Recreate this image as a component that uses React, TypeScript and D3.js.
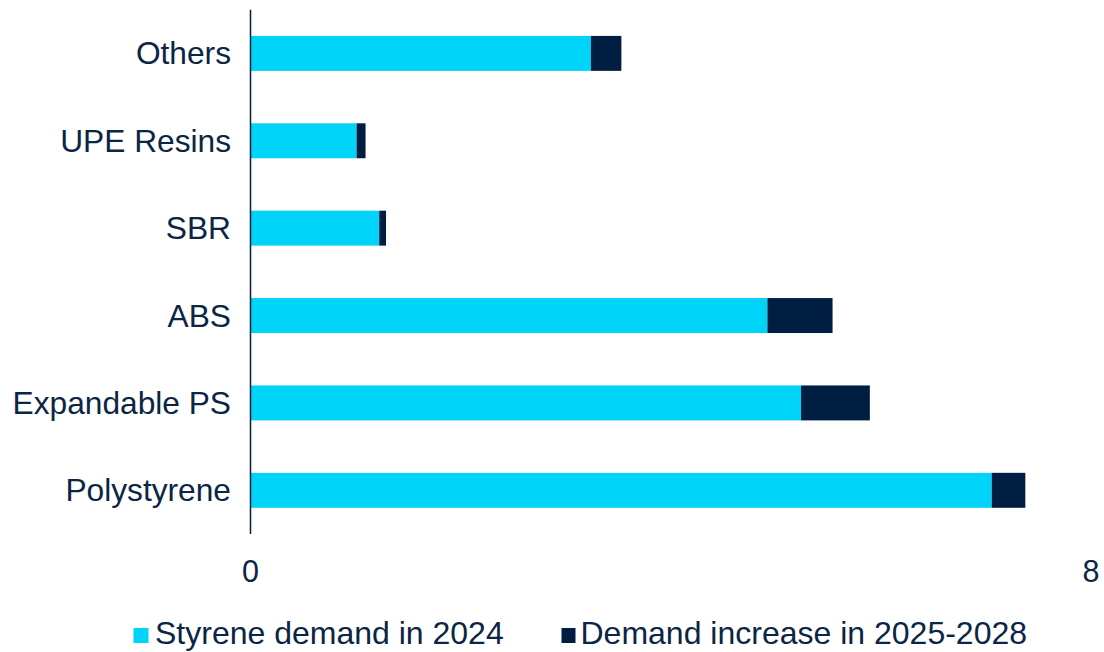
import React from "react";
import * as d3 from "d3";

const categories = ["Others", "UPE Resins", "SBR", "ABS", "Expandable PS", "Polystyrene"];
const demand2024 = [3.24, 1.01, 1.225, 4.92, 5.24, 7.055];
const increase = [0.29, 0.085, 0.065, 0.62, 0.655, 0.32];
const xTicks = [0, 8];
const seriesNames = ["Styrene demand in 2024", "Demand increase in 2025-2028"];

const W = 1104;
const H = 652;
const CYAN = "#00D3F8";
const NAVY = "#001E41";
const TEXT = "#0B2545";
const FONT = "'Liberation Sans', Arial, sans-serif";

export default function App() {
  const x = d3.scaleLinear().domain([0, 8]).range([250.5, 1091]);
  const y = d3
    .scaleBand<string>()
    .domain(categories)
    .range([9.7, 534])
    .paddingInner(0.6)
    .paddingOuter(0.3);

  const rows = categories.map((c, i) => ({
    c,
    a: demand2024[i],
    b: increase[i],
  }));

  return (
    <svg
      width={W}
      height={H}
      style={{ position: "absolute", left: 0, top: 0, background: "#fff" }}
      fontFamily={FONT}
    >
      {rows.map((r) => (
        <g key={r.c}>
          <rect
            x={x(0)}
            y={y(r.c)!}
            width={x(r.a) - x(0)}
            height={y.bandwidth()}
            fill={CYAN}
          />
          <rect
            x={x(r.a)}
            y={y(r.c)!}
            width={x(r.a + r.b) - x(r.a)}
            height={y.bandwidth()}
            fill={NAVY}
          />
          <text
            x={231}
            y={y(r.c)! + y.bandwidth() / 2}
            dy="0.35em"
            textAnchor="end"
            fontSize={31.7}
            fill={TEXT}
          >
            {r.c}
          </text>
        </g>
      ))}
      <line x1={x(0)} x2={x(0)} y1={9.7} y2={534} stroke={NAVY} strokeWidth={1.5} />
      {xTicks.map((t) => (
        <text key={t} x={x(t)} y={582} textAnchor="middle" fontSize={30.5} fill={TEXT}>
          {t}
        </text>
      ))}
      <g>
        <rect x={133.5} y={628} width={15} height={15} fill={CYAN} />
        <text x={155} y={644} fontSize={32} fill={TEXT}>
          {seriesNames[0]}
        </text>
        <rect x={561.5} y={628} width={14} height={15} fill={NAVY} />
        <text x={580.5} y={644} fontSize={32} fill={TEXT}>
          {seriesNames[1]}
        </text>
      </g>
    </svg>
  );
}
